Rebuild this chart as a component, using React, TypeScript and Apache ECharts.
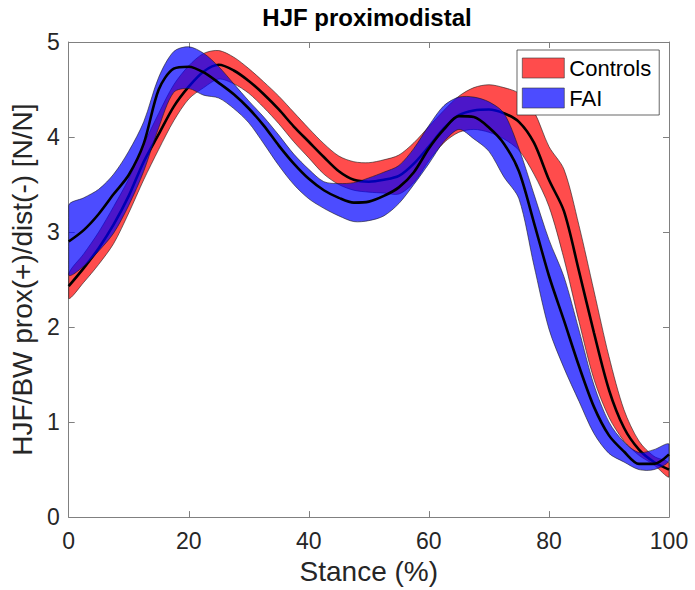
import React, { useEffect, useRef } from "react";
import * as echarts from "echarts";

// Stance (%) sample positions
const stance = [0, 2.5, 5, 7.5, 10, 12.5, 15, 17.5, 20, 22.5, 25, 27.5, 30, 32.5, 35, 37.5, 40, 42.5, 45, 47.5, 50, 52.5, 55, 57.5, 60, 62.5, 65, 67.5, 70, 72.5, 75, 77.5, 80, 82.5, 85, 87.5, 90, 92.5, 95, 97.5, 100];

// Controls: mean and band limits
const controlsMean = [2.43, 2.62, 2.83, 3.08, 3.38, 3.74, 4.03, 4.32, 4.53, 4.69, 4.76, 4.70, 4.59, 4.45, 4.29, 4.11, 3.95, 3.79, 3.64, 3.55, 3.53, 3.55, 3.59, 3.72, 3.90, 4.09, 4.23, 4.28, 4.29, 4.25, 4.16, 3.94, 3.55, 3.22, 2.59, 1.94, 1.34, 0.94, 0.71, 0.58, 0.50];
const controlsHi = [2.56, 2.77, 3.00, 3.27, 3.56, 3.92, 4.25, 4.55, 4.75, 4.88, 4.91, 4.84, 4.72, 4.58, 4.43, 4.26, 4.09, 3.93, 3.80, 3.74, 3.73, 3.76, 3.81, 3.94, 4.11, 4.28, 4.43, 4.52, 4.55, 4.52, 4.46, 4.27, 3.90, 3.66, 3.07, 2.38, 1.69, 1.13, 0.80, 0.64, 0.57];
const controlsLo = [2.30, 2.47, 2.66, 2.88, 3.20, 3.55, 3.87, 4.17, 4.40, 4.52, 4.61, 4.56, 4.46, 4.31, 4.14, 3.95, 3.78, 3.61, 3.50, 3.44, 3.42, 3.41, 3.40, 3.52, 3.75, 3.94, 4.05, 4.08, 4.05, 3.98, 3.86, 3.61, 3.27, 2.72, 2.06, 1.45, 1.05, 0.80, 0.65, 0.55, 0.42];

// FAI: mean and band limits
const faiMean = [2.90, 3.02, 3.19, 3.40, 3.60, 3.93, 4.50, 4.72, 4.74, 4.68, 4.57, 4.45, 4.30, 4.12, 3.91, 3.72, 3.56, 3.44, 3.36, 3.31, 3.32, 3.38, 3.47, 3.63, 3.88, 4.08, 4.22, 4.21, 4.10, 3.93, 3.64, 3.10, 2.54, 2.07, 1.59, 1.16, 0.86, 0.69, 0.56, 0.56, 0.66];
const faiHi = [3.28, 3.36, 3.45, 3.61, 3.85, 4.16, 4.63, 4.90, 4.95, 4.88, 4.74, 4.56, 4.38, 4.21, 4.02, 3.82, 3.66, 3.53, 3.51, 3.52, 3.57, 3.63, 3.70, 3.88, 4.12, 4.33, 4.42, 4.42, 4.37, 4.25, 3.88, 3.40, 2.92, 2.53, 1.97, 1.39, 1.00, 0.79, 0.68, 0.71, 0.77];
const faiLo = [2.55, 2.64, 2.80, 2.99, 3.28, 3.64, 4.10, 4.47, 4.51, 4.44, 4.41, 4.30, 4.15, 3.93, 3.70, 3.50, 3.35, 3.25, 3.17, 3.11, 3.12, 3.17, 3.30, 3.50, 3.72, 3.95, 4.08, 3.98, 3.85, 3.58, 3.35, 2.65, 1.98, 1.57, 1.22, 0.88, 0.67, 0.58, 0.50, 0.50, 0.59];

const xTicks = [0, 20, 40, 60, 80, 100];
const yTicks = [0, 1, 2, 3, 4, 5];

const FONT = "'Liberation Sans', Arial, Helvetica, sans-serif";
const RED = "rgba(255,0,0,0.7)";
const BLUE = "rgba(0,0,255,0.7)";
const AXIS_COLOR = "#808080";
const TEXT_COLOR = "#262626";
const SMOOTH = 0.3;

function bandSeries(name: string, lo: number[], hi: number[], color: string, z: number) {
  return {
    type: "custom",
    name,
    z,
    silent: true,
    itemStyle: { color },
    data: stance.map((x, i) => [x, lo[i], hi[i]]),
    encode: { x: 0, y: [1, 2] },
    renderItem: (params: any, api: any) => {
      if (params.dataIndex !== 0) return null;
      const n = stance.length;
      const top: number[][] = [];
      const bottom: number[][] = [];
      for (let i = 0; i < n; i++) top.push(api.coord([stance[i], hi[i]]));
      for (let i = n - 1; i >= 0; i--) bottom.push(api.coord([stance[i], lo[i]]));
      const tl = api.coord([xTicks[0], yTicks[yTicks.length - 1]]);
      const br = api.coord([xTicks[xTicks.length - 1], yTicks[0]]);
      return {
        type: "group",
        children: [
          {
            type: "polygon",
            shape: { points: top.concat(bottom), smooth: SMOOTH, smoothConstraint: [tl, br] },
            style: { fill: color, stroke: "#1a1a1a", lineWidth: 0.6 },
          },
        ],
      };
    },
  };
}

function meanSeries(name: string, values: number[], z: number) {
  return {
    type: "line",
    name,
    z,
    silent: true,
    showSymbol: false,
    symbol: "none",
    smooth: SMOOTH,
    data: stance.map((x, i) => [x, values[i]]),
    lineStyle: { color: "#000", width: 2.6 },
    itemStyle: { color: "#000" },
  };
}

const axisCommonX = {
  type: "value",
  min: xTicks[0],
  max: xTicks[xTicks.length - 1],
  interval: 20,
  splitLine: { show: false },
  axisLine: { show: true, onZero: false, lineStyle: { color: AXIS_COLOR, width: 1 } },
  axisTick: { show: true, inside: true, length: 6, lineStyle: { color: AXIS_COLOR, width: 1 } },
};
const axisCommonY = {
  type: "value",
  min: yTicks[0],
  max: yTicks[yTicks.length - 1],
  interval: 1,
  splitLine: { show: false },
  axisLine: { show: true, onZero: false, lineStyle: { color: AXIS_COLOR, width: 1 } },
  axisTick: { show: true, inside: true, length: 6, lineStyle: { color: AXIS_COLOR, width: 1 } },
};

export default function App() {
  const ref = useRef<HTMLDivElement>(null);
  useEffect(() => {
    if (!ref.current) return;
    const chart = echarts.init(ref.current, undefined, { renderer: "svg" });
    chart.setOption({
      animation: false,
      backgroundColor: "#fff",
      textStyle: { fontFamily: FONT },
      title: {
        text: "HJF proximodistal",
        left: 367,
        top: 5,
        textAlign: "center",
        padding: 0,
        textStyle: { fontFamily: FONT, fontSize: 24, fontWeight: "bold", color: "#000" },
      },
      legend: {
        data: [
          { name: "Controls", icon: "rect", itemStyle: { color: RED, borderColor: "#333", borderWidth: 0.6 } },
          { name: "FAI", icon: "rect", itemStyle: { color: BLUE, borderColor: "#333", borderWidth: 0.6 } },
        ],
        orient: "vertical",
        left: 517,
        top: 50,
        itemWidth: 42,
        itemHeight: 20,
        itemGap: 8,
        padding: [7, 8, 6, 5],
        backgroundColor: "#fff",
        borderColor: "#262626",
        borderWidth: 0.7,
        z: 10,
        textStyle: { fontFamily: FONT, fontSize: 22, color: "#000", lineHeight: 20 },
      },
      grid: { left: 66, top: 42, width: 603, height: 476, containLabel: false },
      xAxis: [
        {
          ...axisCommonX,
          position: "bottom",
          axisLabel: { fontFamily: FONT, fontSize: 23, color: TEXT_COLOR, margin: 12 },
          name: "Stance (%)",
          nameLocation: "middle",
          nameGap: 38,
          nameTextStyle: { fontFamily: FONT, fontSize: 28, color: TEXT_COLOR },
        },
        { ...axisCommonX, position: "top", axisLabel: { show: false } },
      ],
      yAxis: [
        {
          ...axisCommonY,
          position: "left",
          axisLabel: { fontFamily: FONT, fontSize: 23, color: TEXT_COLOR, margin: 9 },
          name: "HJF/BW prox(+)/dist(-) [N/N]",
          nameLocation: "middle",
          nameGap: 28,
          nameTextStyle: { fontFamily: FONT, fontSize: 28, color: TEXT_COLOR },
        },
        { ...axisCommonY, position: "right", axisLabel: { show: false } },
      ],
      series: [
        bandSeries("Controls", controlsLo, controlsHi, RED, 1),
        meanSeries("Controls mean", controlsMean, 2),
        bandSeries("FAI", faiLo, faiHi, BLUE, 3),
        meanSeries("FAI mean", faiMean, 4),
      ],
    });
    return () => chart.dispose();
  }, []);
  return (
    <div
      ref={ref}
      style={{ position: "fixed", left: 0, top: 0, width: 695, height: 590, background: "#fff" }}
    />
  );
}
